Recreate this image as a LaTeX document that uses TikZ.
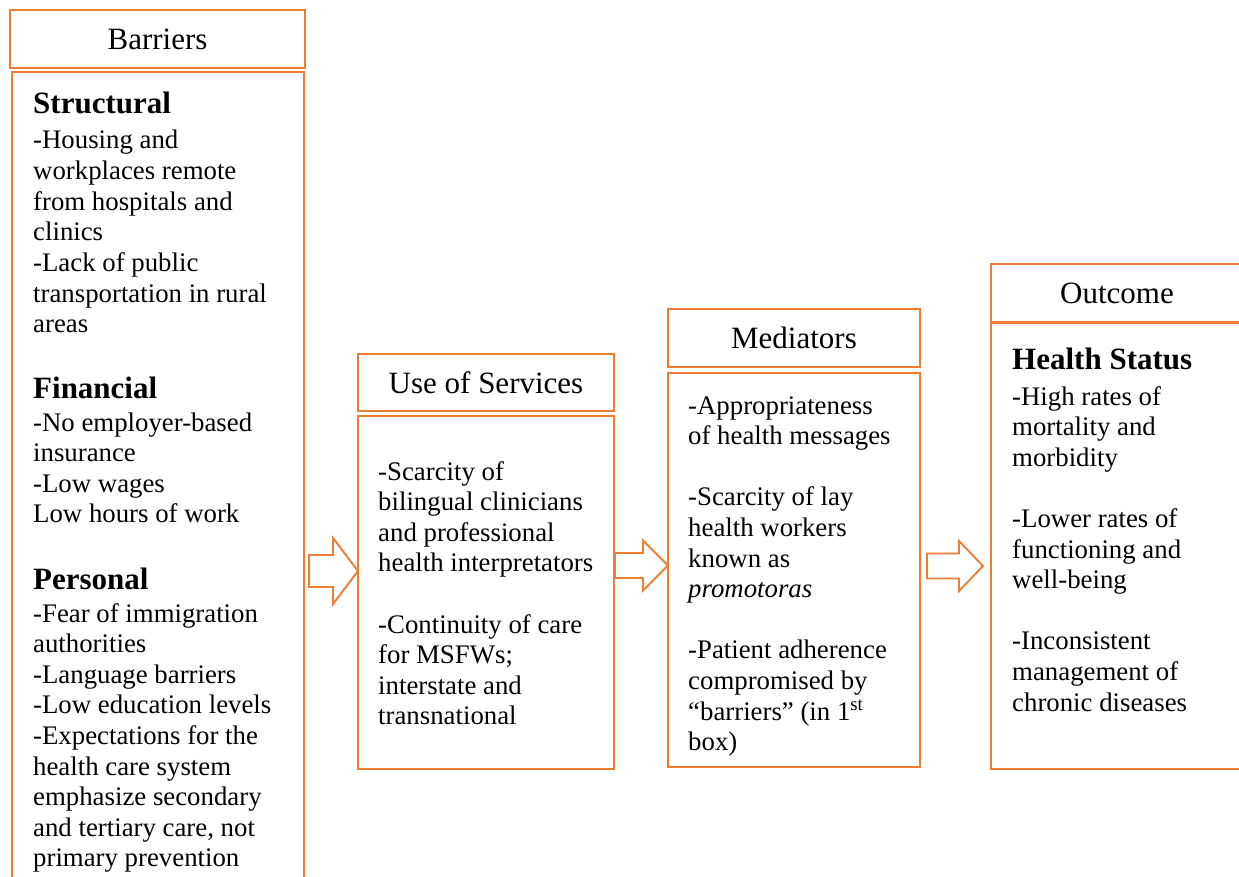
\documentclass[tikz,border=0pt]{standalone}
\usepackage{fontspec}
\setmainfont{Liberation Serif}
\usetikzlibrary{calc}

\definecolor{boxorange}{RGB}{237,125,49}

\tikzset{
  box/.style={draw=boxorange, line width=2.5pt, anchor=north west, inner sep=0pt, outer sep=0pt},
  hdr/.style={box, font=\fontsize{31}{37}\selectfont},
  txt/.style={anchor=base west, inner sep=0pt, font=\fontsize{26.8}{30.6}\selectfont},
  head/.style={txt, font=\fontsize{31}{37}\selectfont\bfseries},
  barrow/.style={draw=boxorange, fill=white, line width=1.9pt, line join=miter}
}

% block arrow: start, end, tail half height, head half height, head length
\newcommand{\blockarrow}[5]{%
  \draw[barrow] let \p1=(#1), \p2=(#2) in
    (\x1,\y1+#3pt) -- (\x2-#5pt,\y1+#3pt) -- (\x2-#5pt,\y1+#4pt) -- (\x2,\y1)
    -- (\x2-#5pt,\y1-#4pt) -- (\x2-#5pt,\y1-#3pt) -- (\x1,\y1-#3pt) -- cycle;}

\begin{document}
\begin{tikzpicture}[x=1pt, y=-1pt]
    \clip (0,0) rectangle (1239,877);

    % Barriers
    \node[hdr, minimum width=295pt, minimum height=58pt] (barhdr) at (10,10) {Barriers};
    \node[box, minimum width=292pt, minimum height=840pt] (barbody) at (12,72) {};
    \node[head] (structural) at (33,114) {Structural};
    \foreach \rowtext [count=\i from 0] in {-Housing and, workplaces remote, from hospitals and, clinics, -Lack of public, transportation in rural, areas}
        \node[txt] (str-\i) at (33,149+30.6*\i) {\rowtext};
    \node[head] (financial) at (33,398) {Financial};
    \foreach \rowtext [count=\i from 0] in {-No employer-based, insurance, -Low wages, Low hours of work}
        \node[txt] (fin-\i) at (33,431+30.6*\i) {\rowtext};
    \node[head] (personal) at (33,589) {Personal};
    \foreach \rowtext [count=\i from 0] in {-Fear of immigration, authorities, -Language barriers, -Low education levels, -Expectations for the, health care system, emphasize secondary, {and tertiary care, not}, primary prevention}
        \node[txt] (per-\i) at (33,622+30.6*\i) {\rowtext};

    % Use of Services
    \node[hdr, minimum width=256pt, minimum height=57pt] (usehdr) at (358,354) {Use of Services};
    \node[box, minimum width=256pt, minimum height=353pt] (usebody) at (358,416) {};
    \foreach \rowtext [count=\i from 0] in {-Scarcity of, bilingual clinicians, and professional, health interpretators, {}, -Continuity of care, for MSFWs;, interstate and, transnational}
        \node[txt] (use-\i) at (378,480+30.6*\i) {\rowtext};

    % Mediators
    \node[hdr, minimum width=252pt, minimum height=58pt] (medhdr) at (668,309) {Mediators};
    \node[box, minimum width=252pt, minimum height=394pt] (medbody) at (668,373) {};
    \foreach \rowtext [count=\i from 0] in {-Appropriateness, of health messages, {}, -Scarcity of lay, health workers, known as, \textit{promotoras}, {}, -Patient adherence, compromised by, {“barriers” (in 1\textsuperscript{st}}, {box)}}
        \node[txt] (med-\i) at (688,414+30.6*\i) {\rowtext};

    % Outcome
    \node[hdr, minimum width=252pt, minimum height=58pt] (outhdr) at (991,264) {Outcome};
    \node[box, minimum width=252pt, minimum height=446pt] (outbody) at (991,323) {};
    \node[head] (status) at (1012,369) {Health Status};
    \foreach \rowtext [count=\i from 0] in {-High rates of, mortality and, morbidity, {}, -Lower rates of, functioning and, well-being, {}, -Inconsistent, management of, chronic diseases}
        \node[txt] (out-\i) at (1012,405+30.6*\i) {\rowtext};

    % Arrows between boxes
    \coordinate (a1s) at (309,571);
    \coordinate (a1e) at (usebody.west |- a1s);
    \blockarrow{a1s}{a1e}{16}{33}{25}
    \coordinate (a2s) at (615,565.5);
    \coordinate (a2e) at (medbody.west |- a2s);
    \blockarrow{a2s}{a2e}{12.5}{25}{25}
    \coordinate (a3s) at (927,566);
    \coordinate (a3e) at ($(outbody.west |- a3s)+(-8,0)$);
    \blockarrow{a3s}{a3e}{12.5}{25}{24}
\end{tikzpicture}
\end{document}
